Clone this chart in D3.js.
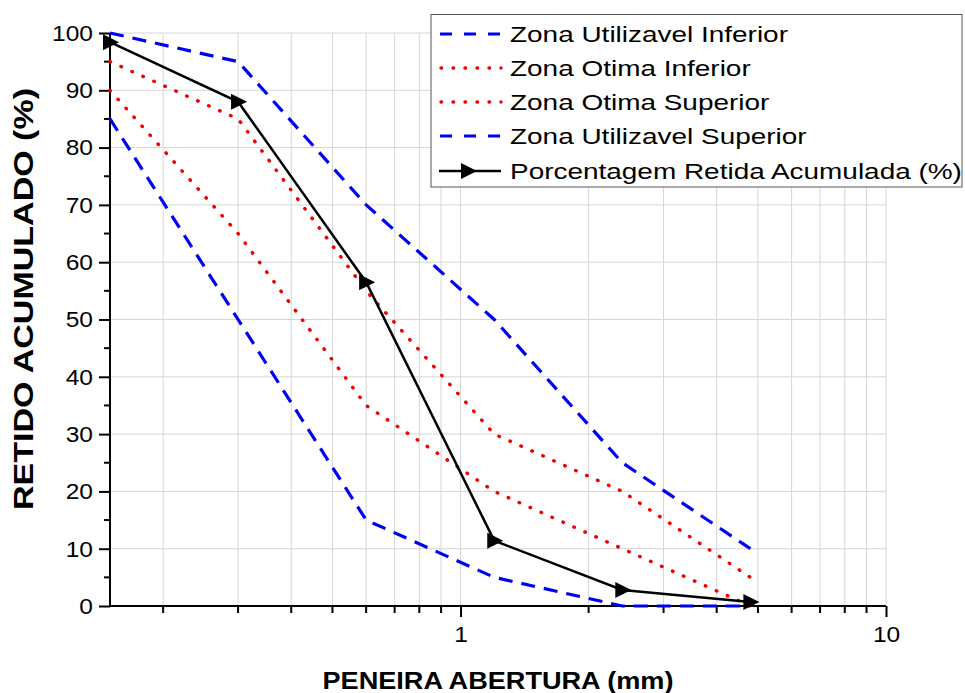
<!DOCTYPE html>
<html>
<head>
<meta charset="utf-8">
<script src="https://cdn.jsdelivr.net/npm/d3@7"></script>
<style>
  html, body { margin: 0; padding: 0; background: #fff; }
  text { font-family: "Liberation Sans", Arial, sans-serif; fill: #000; }
</style>
</head>
<body>
<svg id="chart" width="965" height="693"></svg>
<script>
// ---- data ----
const sieves = [0.15, 0.3, 0.6, 1.2, 2.4, 4.8];
const zonaUtilInferior = [85, 50, 15, 5, 0, 0];
const zonaOtimaInferior = [90, 65, 35, 20, 10, 0];
const zonaOtimaSuperior = [95, 85, 55, 30, 20, 5];
const zonaUtilSuperior = [100, 95, 70, 50, 25, 10];
const retidaAcumulada = [98.4, 88, 56.5, 11.4, 2.8, 0.7];
const seriesNames = ["Zona Utilizavel Inferior", "Zona Otima Inferior", "Zona Otima Superior", "Zona Utilizavel Superior", "Porcentagem Retida Acumulada (%)"];
const yTicks = [0, 10, 20, 30, 40, 50, 60, 70, 80, 90, 100];
const xMajorTicks = [1, 10];
const xAllTicks = [0.2, 0.3, 0.4, 0.5, 0.6, 0.7, 0.8, 0.9, 1, 2, 3, 4, 5, 6, 7, 8, 9, 10];
const yMinorTicks = [5, 15, 25, 35, 45, 55, 65, 75, 85, 95];

const svg = d3.select("#chart");
const L = 110, R = 886, T = 33, B = 606;
const x = d3.scaleLog().domain([0.15, 10]).range([L, R]);
const y = d3.scaleLinear().domain([0, 100]).range([B, T]);

// grid
const grid = svg.append("g");
grid.selectAll("line.v").data(xAllTicks).join("line")
  .attr("x1", d => x(d)).attr("x2", d => x(d)).attr("y1", B).attr("y2", T)
  .attr("stroke", "#d6d6d6").attr("stroke-width", 1);
grid.selectAll("line.h").data(yTicks.filter(d => d > 0)).join("line")
  .attr("x1", L).attr("x2", R).attr("y1", d => y(d)).attr("y2", d => y(d))
  .attr("stroke", "#d6d6d6").attr("stroke-width", 1);

// axes
const yAxis = svg.append("g").attr("transform", `translate(${L},0)`)
  .call(d3.axisLeft(y).tickValues(yTicks).tickSize(11).tickPadding(6).tickFormat(d3.format("d")));
yAxis.select(".domain").attr("stroke-width", 2).attr("d", `M0,${B+1}V${T}`);
yAxis.selectAll(".tick line").attr("stroke-width", 2);
yAxis.selectAll(".tick text").attr("font-size", 21.5).attr("font-family", "Liberation Sans, Arial, sans-serif")
  .attr("fill", "#000").attr("dy", "0.34em")
  .each(function() { const l = this.getComputedTextLength(); d3.select(this).attr("textLength", l * 1.14).attr("lengthAdjust", "spacingAndGlyphs"); });
svg.append("g").selectAll("line").data(yMinorTicks).join("line")
  .attr("x1", L - 6).attr("x2", L).attr("y1", d => y(d)).attr("y2", d => y(d))
  .attr("stroke", "#000").attr("stroke-width", 2);

const xAxis = svg.append("g").attr("transform", `translate(0,${B})`)
  .call(d3.axisBottom(x).tickValues(xMajorTicks).tickSize(11).tickPadding(10).tickFormat(d3.format("d")));
xAxis.select(".domain").attr("stroke-width", 2).attr("d", `M${L-1},0H${R}`);
xAxis.selectAll(".tick line").attr("stroke-width", 2);
xAxis.selectAll(".tick text").attr("font-size", 21.5).attr("font-family", "Liberation Sans, Arial, sans-serif")
  .attr("fill", "#000")
  .each(function() { const l = this.getComputedTextLength(); d3.select(this).attr("textLength", l * 1.14).attr("lengthAdjust", "spacingAndGlyphs"); });
svg.append("g").selectAll("line").data(xAllTicks.filter(d => !xMajorTicks.includes(d))).join("line")
  .attr("x1", d => x(d)).attr("x2", d => x(d)).attr("y1", B).attr("y2", B + 7)
  .attr("stroke", "#000").attr("stroke-width", 2);

// titles
svg.append("text").attr("x", 498).attr("y", 689).attr("text-anchor", "middle")
  .attr("font-size", 24).attr("font-weight", "bold").attr("textLength", 351).attr("lengthAdjust", "spacingAndGlyphs")
  .text("PENEIRA ABERTURA (mm)");
svg.append("text").attr("transform", "translate(33,299) rotate(-90)").attr("text-anchor", "middle")
  .attr("font-size", 28).attr("font-weight", "bold").attr("textLength", 422).attr("lengthAdjust", "spacingAndGlyphs")
  .text("RETIDO ACUMULADO (%)");

// lines
const line = d3.line().x(d => x(d[0])).y(d => y(d[1]));
const styles = [
  { stroke: "#0000f0", width: 3.2, dash: "14,9", cap: "butt" },
  { stroke: "#f00000", width: 3.4, dash: "0.6,11.4", cap: "round" },
  { stroke: "#f00000", width: 3.4, dash: "0.6,11.4", cap: "round" },
  { stroke: "#0000f0", width: 3.2, dash: "14,9", cap: "butt" },
];
const bandSeries = [zonaUtilInferior, zonaOtimaInferior, zonaOtimaSuperior, zonaUtilSuperior];
bandSeries.forEach((s, i) => {
  svg.append("path").datum(sieves.map((v, j) => [v, s[j]]))
    .attr("d", line).attr("fill", "none")
    .attr("stroke", styles[i].stroke).attr("stroke-width", styles[i].width)
    .attr("stroke-dasharray", styles[i].dash).attr("stroke-linecap", styles[i].cap);
});
const mainData = sieves.map((v, j) => [v, retidaAcumulada[j]]);
svg.append("path").datum(mainData).attr("d", line).attr("fill", "none")
  .attr("stroke", "#000").attr("stroke-width", 2.5);
const tri = "M-7,-8L9,0L-7,8Z";
svg.append("g").selectAll("path").data(mainData).join("path")
  .attr("transform", d => `translate(${x(d[0])},${y(d[1])})`)
  .attr("d", tri).attr("fill", "#000");

// legend
const lg = svg.append("g");
lg.append("rect").attr("x", 431).attr("y", 14.5).attr("width", 531).attr("height", 172.5)
  .attr("fill", "#fff").attr("stroke", "#555").attr("stroke-width", 1);
const ly = [34, 68, 102, 136, 171];
seriesNames.forEach((name, i) => {
  const yy = ly[i];
  if (i < 4) {
    lg.append("line").attr("x1", 440).attr("x2", 501).attr("y1", yy).attr("y2", yy)
      .attr("stroke", styles[i].stroke).attr("stroke-width", styles[i].width)
      .attr("stroke-dasharray", i === 0 || i === 3 ? "12,12" : "0.6,11.4")
      .attr("stroke-linecap", styles[i].cap)
      .attr("stroke-dashoffset", i === 0 || i === 3 ? 0 : -1);
  } else {
    lg.append("line").attr("x1", 439).attr("x2", 501).attr("y1", yy).attr("y2", yy)
      .attr("stroke", "#000").attr("stroke-width", 2.5);
    lg.append("path").attr("transform", `translate(468,${yy})`).attr("d", tri).attr("fill", "#000");
  }
  lg.append("text").attr("x", 510).attr("y", yy + 8).attr("font-size", 22).text(name)
    .each(function() { const l = this.getComputedTextLength(); d3.select(this).attr("textLength", l * 1.27).attr("lengthAdjust", "spacingAndGlyphs"); });
});
</script>
</body>
</html>
